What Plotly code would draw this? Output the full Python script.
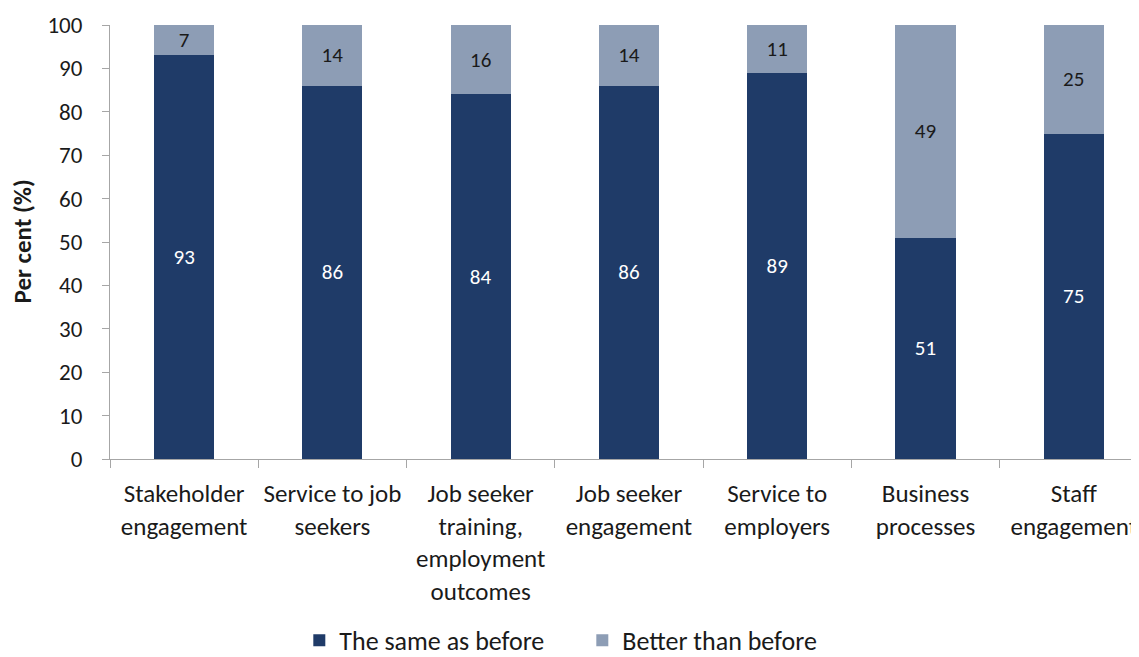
import plotly.graph_objects as go

categories = [
    "Stakeholder<br>engagement",
    "Service to job<br>seekers",
    "Job seeker<br>training,<br>employment<br>outcomes",
    "Job seeker<br>engagement",
    "Service to<br>employers",
    "Business<br>processes",
    "Staff<br>engagement",
]
same_as_before = [93, 86, 84, 86, 89, 51, 75]
better_than_before = [7, 14, 16, 14, 11, 49, 25]
y_ticks = [0, 10, 20, 30, 40, 50, 60, 70, 80, 90, 100]

FONT = "Carlito, Lato, 'Open Sans', sans-serif"
DARK = "#1F3B68"
LIGHT = "#8D9DB5"

fig = go.Figure()
fig.add_trace(go.Bar(
    x=categories, y=same_as_before, name="The same as before",
    marker=dict(color=DARK, line=dict(width=0)),
    text=same_as_before, textposition="inside", insidetextanchor="middle",
    textangle=0,
    textfont=dict(color="white", size=21, family=FONT),
    constraintext="none",
))
fig.add_trace(go.Bar(
    x=categories, y=better_than_before, name="Better than before",
    marker=dict(color=LIGHT, line=dict(width=0)),
    text=better_than_before, textposition="inside", insidetextanchor="middle",
    textangle=0,
    textfont=dict(color="#1a1a1a", size=21, family=FONT),
    constraintext="none",
))

# the page body has an 8px margin, so the figure is offset by 8px
fig.update_layout(
    barmode="stack",
    bargap=0.595,
    width=1131, height=649,
    margin=dict(l=102, r=0, t=17, b=198, autoexpand=False),
    paper_bgcolor="white", plot_bgcolor="white",
    font=dict(family=FONT, size=25, color="#1a1a1a"),
    uniformtext=dict(minsize=21, mode="show"),
    showlegend=True,
    legend=dict(
        orientation="h", x=0.459, xanchor="center", y=-0.418, yanchor="middle",
        font=dict(size=26, family=FONT, color="#1a1a1a"),
        traceorder="normal", itemclick=False, entrywidth=238,
    ),
)
fig.update_xaxes(
    range=[-0.5, 6.44],
    showline=True, linecolor="#a6a6a6", linewidth=1,
    ticks="outside", tickson="boundaries", ticklen=8, tickcolor="#a6a6a6",
    showgrid=False, zeroline=False,
    tickangle=0,
    tickfont=dict(size=25, family=FONT, color="#1a1a1a"),
    ticklabelstandoff=12,
    automargin=False,
)
fig.update_yaxes(
    range=[0, 100], tickvals=y_ticks,
    showline=True, linecolor="#a6a6a6", linewidth=1,
    ticks="outside", ticklen=7, tickcolor="#a6a6a6",
    showgrid=False, zeroline=False,
    tickfont=dict(size=23, family=FONT, color="#1a1a1a"),
    ticklabelstandoff=15,
    automargin=False,
)
fig.add_annotation(
    text="<b>Per cent (%)</b>", xref="paper", yref="paper",
    x=-0.086, y=0.5, xanchor="center", yanchor="middle",
    textangle=-90, showarrow=False,
    font=dict(size=25, family=FONT, color="#1a1a1a"),
)

fig.write_html("out.html")
